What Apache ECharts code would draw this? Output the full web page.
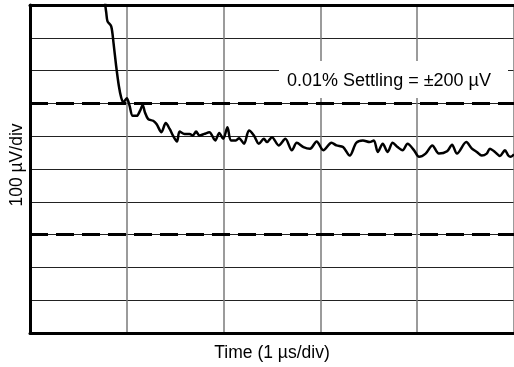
<!DOCTYPE html>
<html>
<head>
<meta charset="utf-8">
<script src="https://cdn.jsdelivr.net/npm/echarts@6/dist/echarts.min.js"></script>
<style>
  html, body { margin: 0; padding: 0; background: #fff; }
  #chart { width: 514px; height: 367px; }
</style>
</head>
<body>
<div id="chart"></div>
<script>
    // time in µs, output in µV
    var timeUs = [0.76, 0.778, 0.788, 0.801, 0.839, 0.863, 0.890, 0.918, 0.942, 0.965, 1.000,
        1.027, 1.061, 1.102, 1.136, 1.164, 1.187, 1.221, 1.272, 1.307, 1.358,
        1.402, 1.443, 1.477, 1.518, 1.546, 1.597, 1.648, 1.682, 1.716, 1.750,
        1.801, 1.853, 1.914, 1.955, 1.996, 2.040, 2.075, 2.126, 2.160, 2.211,
        2.262, 2.313, 2.364, 2.416, 2.449, 2.500, 2.569, 2.638, 2.705, 2.756,
        2.825, 2.893, 2.961, 3.030, 3.115, 3.166, 3.234, 3.303, 3.371, 3.439,
        3.508, 3.552, 3.593, 3.644, 3.695, 3.746, 3.797, 3.849, 3.900, 3.968,
        4.019, 4.087, 4.156, 4.224, 4.309, 4.360, 4.411, 4.507, 4.565, 4.616,
        4.667, 4.718, 4.752, 4.803, 4.855, 4.906, 4.941, 4.964, 5.0];
    var outputUv = [650, 500, 476, 450, 435, 384, 314, 253, 218, 203, 216,
        195, 162, 162, 177, 195, 173, 152, 147, 137, 112,
        140, 122, 102, 84, 114, 107, 107, 102, 114, 102,
        107, 112, 87, 110, 92, 127, 87, 87, 94, 77,
        117, 102, 77, 92, 82, 97, 72, 92, 57, 80,
        67, 62, 84, 57, 80, 72, 67, 41, 80, 87,
        82, 87, 52, 77, 52, 80, 67, 57, 77, 57,
        37, 47, 72, 47, 54, 74, 47, 82, 62, 52,
        41, 47, 62, 52, 40, 57, 41, 37, 45];
    var settlingBand = [200, -200];
    var labelX = "Time (1 µs/div)";
    var labelY = "100 µV/div";
    var note = "0.01% Settling = ±200 µV";

    var font = "'Liberation Sans', Arial, sans-serif";
    var points = timeUs.map(function (t, i) { return [t, outputUv[i]]; });
    var frame = { show: true, onZero: false, lineStyle: { color: "#000", width: 3 } };

    var chart = echarts.init(document.getElementById("chart"));
    chart.setOption({
        animation: false,
        grid: {
            left: 29,
            top: 5,
            width: 487.5,
            height: 331
        },
        xAxis: [{
            type: "value",
            position: "bottom",
            min: 0,
            max: 5,
            interval: 1,
            name: labelX,
            nameLocation: "middle",
            nameGap: 11,
            nameTextStyle: { color: "#000", fontFamily: font, fontSize: 17.5 },
            axisLine: frame,
            axisTick: { show: false },
            axisLabel: { show: false },
            splitLine: { lineStyle: { color: "#7a7a7a", width: 1.5 } }
        }, {
            // top edge of the frame only
            type: "value",
            position: "top",
            min: 0,
            max: 5,
            axisLine: frame,
            axisTick: { show: false },
            axisLabel: { show: false },
            splitLine: { show: false }
        }],
        yAxis: {
            type: "value",
            min: -500,
            max: 500,
            interval: 100,
            name: labelY,
            nameLocation: "middle",
            nameGap: 4,
            nameTextStyle: { color: "#000", fontFamily: font, fontSize: 17.5, padding: [0, 0, 0, 8] },
            axisLine: frame,
            axisTick: { show: false },
            axisLabel: { show: false },
            splitLine: { lineStyle: { color: "#222", width: 1 } }
        },
        graphic: [{
            type: "rect",
            z: 100,
            zlevel: 1,
            shape: { x: 279, y: 61, width: 229, height: 37 },
            style: { fill: "#fff" }
        }, {
            type: "text",
            z: 101,
            zlevel: 1,
            x: 389,
            y: 81,
            style: {
                text: note,
                fill: "#000",
                font: "18px " + font,
                textAlign: "center",
                textVerticalAlign: "middle"
            }
        }],
        series: [{
            type: "line",
            data: points,
            showSymbol: false,
            smooth: 0.3,
            clip: true,
            lineStyle: { color: "#000", width: 2.5 },
            markLine: {
                silent: true,
                symbol: "none",
                label: { show: false },
                lineStyle: { color: "#000", width: 3, type: [18, 8] },
                data: settlingBand.map(function (v) { return { yAxis: v }; })
            }
        }]
    });
</script>
</body>
</html>
